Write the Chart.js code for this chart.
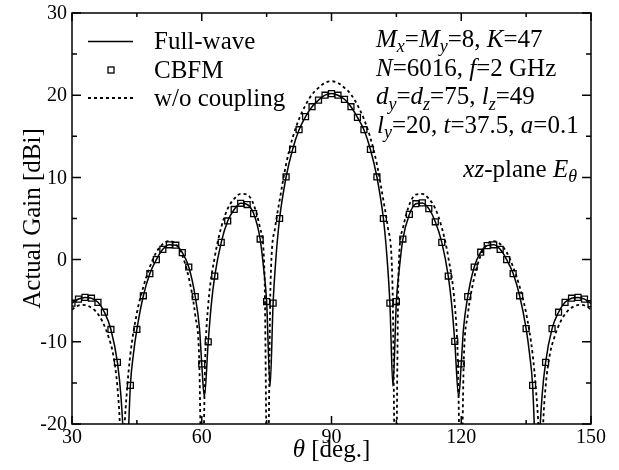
<!DOCTYPE html>
<html>
<head>
<meta charset="utf-8">
<script src="https://cdn.jsdelivr.net/npm/chart.js@4"></script>
<style>
  html, body { margin: 0; padding: 0; background: #fff; }
  canvas { display: block; }
</style>
</head>
<body>
<canvas id="gainChart" width="619" height="470"></canvas>
<script>
// --- DATA ---
// Full-wave, solid line
const fwTheta = [30, 31.5, 33, 34.5, 36, 37.5, 39, 40.5, 41.3, 42, 42.5, 43, 43.5, 44.2, 45, 46.5, 48, 49.5, 51, 52.5, 54, 55.5, 57, 58.5, 59.5, 60, 60.6, 61.5, 62.2, 63, 64.5, 66, 67.5, 69, 70.5, 72, 73.5, 74.3, 75, 75.8, 76.5, 77.2, 78, 79.5, 81, 82.5, 84, 85.5, 87, 88.5, 90, 91.5, 93, 94.5, 96, 97.5, 99, 100.5, 102, 102.8, 103.5, 104.2, 105, 105.7, 106.5, 108, 109.5, 111, 112.5, 114, 115.5, 117, 117.8, 118.5, 119.4, 120, 120.5, 121.5, 123, 124.5, 126, 127.5, 129, 130.5, 132, 133.5, 135, 135.8, 136.5, 137, 137.5, 138, 138.7, 139.5, 141, 142.5, 144, 145.5, 147, 148.5, 150];
const fwGain = [-5.3, -4.8, -4.6, -4.7, -5.2, -6.4, -8.5, -12.5, -16.5, -23, -32, -22, -15.3, -11.5, -8.5, -4.4, -1.7, 0.0, 1.25, 1.8, 1.75, 0.85, -0.9, -4.5, -8.5, -12.7, -16.7, -10.0, -5.5, -2.0, 2.1, 4.7, 6.1, 6.85, 6.7, 5.6, 2.5, -1.0, -5.1, -15.4, -5.3, 0.5, 5.0, 10.05, 13.4, 15.8, 17.4, 18.6, 19.4, 20.0, 20.2, 20.0, 19.5, 18.6, 17.3, 15.8, 13.4, 10.05, 5.0, 0.5, -5.3, -15.4, -5.1, -1.0, 2.5, 5.5, 6.8, 6.9, 6.2, 4.6, 2.1, -2.0, -5.5, -9.95, -16.7, -12.7, -8.5, -4.5, -0.9, 0.9, 1.7, 1.8, 1.25, 0.0, -1.7, -4.4, -8.4, -11.5, -15.3, -22, -32, -23, -16.5, -12.5, -8.4, -6.4, -5.2, -4.7, -4.6, -4.8, -5.35];

// CBFM, square markers every 1.5 deg
const cbTheta = [30, 31.5, 33, 34.5, 36, 37.5, 39, 40.5, 42, 43.5, 45, 46.5, 48, 49.5, 51, 52.5, 54, 55.5, 57, 58.5, 60, 61.5, 63, 64.5, 66, 67.5, 69, 70.5, 72, 73.5, 75, 76.5, 78, 79.5, 81, 82.5, 84, 85.5, 87, 88.5, 90, 91.5, 93, 94.5, 96, 97.5, 99, 100.5, 102, 103.5, 105, 106.5, 108, 109.5, 111, 112.5, 114, 115.5, 117, 118.5, 120, 121.5, 123, 124.5, 126, 127.5, 129, 130.5, 132, 133.5, 135, 136.5, 138, 139.5, 141, 142.5, 144, 145.5, 147, 148.5, 150];
const cbGain = [-5.3, -4.8, -4.6, -4.7, -5.2, -6.4, -8.5, -12.5, -24, -15.3, -8.5, -4.4, -1.7, 0.0, 1.25, 1.8, 1.75, 0.85, -0.9, -4.5, -12.7, -10.0, -2.0, 2.1, 4.7, 6.1, 6.85, 6.7, 5.6, 2.5, -5.1, -5.3, 5.0, 10.05, 13.4, 15.8, 17.4, 18.6, 19.4, 20.0, 20.2, 20.0, 19.5, 18.6, 17.3, 15.8, 13.4, 10.05, 5.0, -5.3, -5.1, 2.5, 5.5, 6.8, 6.9, 6.2, 4.6, 2.1, -2.0, -9.95, -12.7, -4.5, -0.9, 0.9, 1.7, 1.8, 1.25, 0.0, -1.7, -4.4, -8.4, -15.3, -24, -12.5, -8.4, -6.4, -5.2, -4.7, -4.6, -4.8, -5.35];

// w/o coupling, dotted line
const wocTheta = [30, 31, 32.5, 34, 35.5, 37, 38.5, 39.5, 40.5, 41.1, 41.6, 42.1, 42.7, 43.5, 45, 46.5, 48, 49.5, 51, 52.5, 54, 55.5, 57, 58.5, 59.4, 60.1, 60.8, 61.5, 63, 64.5, 66, 67.5, 69, 70.5, 72, 73.5, 74.5, 75.2, 75.9, 77, 78, 79.5, 81, 82.5, 84, 85.5, 87, 88.5, 90, 91.5, 93, 94.5, 96, 97.5, 99, 100.5, 102, 103, 104.1, 104.8, 105.5, 106.5, 108, 109.5, 111, 112.5, 114, 115.5, 117, 118.5, 119.2, 119.9, 120.6, 121.5, 123, 124.5, 126, 127.5, 129, 130.5, 132, 133.5, 135, 136.5, 137.3, 137.9, 138.4, 138.9, 139.5, 140.5, 141.5, 143, 144.5, 146, 147.5, 149, 150];
const wocGain = [-6.1, -5.7, -5.5, -5.7, -6.3, -7.5, -9.5, -11.5, -15.5, -20.5, -30, -21, -16, -11.5, -6.5, -3.3, -0.9, 0.9, 1.9, 2.25, 1.9, 0.5, -2.2, -6.8, -12, -30, -12, -5.5, 0.3, 3.9, 6.2, 7.4, 8.0, 7.9, 6.7, 3.8, -1.5, -30, -3, 4.0, 7.2, 11.6, 14.8, 17.1, 18.8, 20.1, 20.9, 21.5, 21.7, 21.5, 20.9, 20.1, 18.8, 17.1, 14.8, 11.6, 7.2, 4.0, -3, -30, -1.5, 3.8, 6.7, 7.9, 8.0, 7.4, 6.2, 3.9, 0.3, -5.5, -12, -30, -12, -6.8, -2.2, 0.5, 1.9, 2.25, 1.9, 0.9, -0.9, -3.3, -6.5, -11.5, -16, -21, -30, -20.5, -15.5, -11.5, -9.5, -7.5, -6.3, -5.7, -5.5, -5.7, -6.1];

// --- AXES ---
const xMajor = [30, 60, 90, 120, 150];
const xMinor = [45, 75, 105, 135];
const yMajor = [-20, -10, 0, 10, 20, 30];
const yMinor = [-15, -5, 5, 15, 25];
const xTickLabels = ['30', '60', '90', '120', '150'];
const yTickLabels = ['-20', '-10', '0', '10', '20', '30'];

const SERIF = '"Liberation Serif", "Times New Roman", serif';

function pts(xs, ys) {
    return xs.map((x, i) => ({ x: x, y: ys[i] }));
}

// draws a run of text pieces: [text, italic?, subscript?]
function richText(c, parts, x, y, size) {
    let cx = x;
    parts.forEach(p => {
        const sub = p[2];
        const fs = sub ? Math.round(size * 0.7) : size;
        c.font = (p[1] ? 'italic ' : '') + fs + 'px ' + SERIF;
        c.fillText(p[0], cx, sub ? y + size * 0.22 : y);
        cx += c.measureText(p[0]).width;
    });
    return cx - x;
}

function richWidth(c, parts, size) {
    let w = 0;
    parts.forEach(p => {
        const fs = p[2] ? Math.round(size * 0.7) : size;
        c.font = (p[1] ? 'italic ' : '') + fs + 'px ' + SERIF;
        w += c.measureText(p[0]).width;
    });
    return w;
}

const framePlugin = {
    id: 'frame',
    afterDatasetsDraw(chart) {
        const c = chart.ctx;
        const a = chart.chartArea;
        const xs = chart.scales.x, ys = chart.scales.y;
        c.save();
        c.strokeStyle = '#000';
        c.fillStyle = '#000';
        c.lineWidth = 1.5;
        c.strokeRect(a.left, a.top, a.right - a.left, a.bottom - a.top);

        // inward ticks
        c.beginPath();
        const tickX = (v, len) => {
            const px = xs.getPixelForValue(v);
            c.moveTo(px, a.bottom); c.lineTo(px, a.bottom - len);
            c.moveTo(px, a.top); c.lineTo(px, a.top + len);
        };
        const tickY = (v, len) => {
            const py = ys.getPixelForValue(v);
            c.moveTo(a.left, py); c.lineTo(a.left + len, py);
            c.moveTo(a.right, py); c.lineTo(a.right - len, py);
        };
        xMajor.forEach(v => tickX(v, 8));
        xMinor.forEach(v => tickX(v, 4));
        yMajor.forEach(v => tickY(v, 9));
        yMinor.forEach(v => tickY(v, 5));
        c.stroke();

        // tick labels
        c.font = '20px ' + SERIF;
        c.textAlign = 'center';
        c.textBaseline = 'alphabetic';
        xMajor.forEach((v, i) => c.fillText(xTickLabels[i], xs.getPixelForValue(v), a.bottom + 19));
        c.textAlign = 'right';
        c.textBaseline = 'middle';
        yMajor.forEach((v, i) => c.fillText(yTickLabels[i], a.left - 5, ys.getPixelForValue(v) + 1));

        // axis titles
        c.textBaseline = 'alphabetic';
        c.textAlign = 'left';
        const xt = [['\u03b8', true], [' [deg.]', false]];
        const xw = richWidth(c, xt, 25);
        richText(c, xt, (a.left + a.right) / 2 - xw / 2, 457, 25);

        c.save();
        c.translate(39.5, (a.top + a.bottom) / 2);
        c.rotate(-Math.PI / 2);
        c.font = '25px ' + SERIF;
        c.textAlign = 'center';
        c.fillText('Actual Gain [dBi]', 0, 0);
        c.restore();

        // legend
        c.textAlign = 'left';
        c.font = '25px ' + SERIF;
        c.lineWidth = 1.5;
        c.beginPath(); c.moveTo(88, 41.5); c.lineTo(133, 41.5); c.stroke();
        c.fillText('Full-wave', 154, 49);
        c.fillStyle = '#fff';
        c.fillRect(108, 67, 6, 6);
        c.fillStyle = '#000';
        c.lineWidth = 1.3;
        c.strokeRect(108, 67, 6, 6);
        c.fillText('CBFM', 154, 77.5);
        c.lineWidth = 1.8;
        c.setLineDash([3, 3]);
        c.beginPath(); c.moveTo(88, 98); c.lineTo(133, 98); c.stroke();
        c.setLineDash([]);
        c.fillText('w/o coupling', 154, 106);

        // parameter notes
        richText(c, [['M', true], ['x', true, true], ['=', false], ['M', true], ['y', true, true], ['=8, ', false], ['K', true], ['=47', false]], 376, 46.5, 25);
        richText(c, [['N', true], ['=6016, ', false], ['f', true], ['=2 GHz', false]], 376, 76, 25);
        richText(c, [['d', true], ['y', true, true], ['=', false], ['d', true], ['z', true, true], ['=75, ', false], ['l', true], ['z', true, true], ['=49', false]], 376, 104, 25);
        richText(c, [['l', true], ['y', true, true], ['=20, ', false], ['t', true], ['=37.5, ', false], ['a', true], ['=0.1', false]], 377, 132.5, 25);
        const pl = [['xz', true], ['-plane ', false], ['E', true], ['\u03b8', true, true]];
        richText(c, pl, 577 - richWidth(c, pl, 25), 176.5, 25);
        c.restore();
    }
};

const ctx = document.getElementById('gainChart').getContext('2d');
const gainChart = new Chart(ctx, {
    type: 'scatter',
    data: {
        datasets: [{
            label: 'w/o coupling',
            data: pts(wocTheta, wocGain),
            showLine: true,
            borderColor: '#000',
            borderWidth: 1.8,
            borderDash: [3, 3],
            pointRadius: 0,
            cubicInterpolationMode: 'monotone'
        }, {
            label: 'Full-wave',
            data: pts(fwTheta, fwGain),
            showLine: true,
            borderColor: '#000',
            borderWidth: 1.5,
            pointRadius: 0,
            cubicInterpolationMode: 'monotone'
        }, {
            label: 'CBFM',
            data: pts(cbTheta, cbGain),
            showLine: false,
            pointStyle: 'rect',
            pointRadius: 4.2,
            pointBorderWidth: 1.3,
            pointBorderColor: '#000',
            pointBackgroundColor: '#fff'
        }]
    },
    options: {
        responsive: false,
        animation: false,
        devicePixelRatio: 1,
        layout: { padding: { left: 72, right: 28, top: 13, bottom: 46 } },
        scales: {
            x: { type: 'linear', min: 30, max: 150, display: false },
            y: { type: 'linear', min: -20, max: 30, display: false }
        },
        plugins: { legend: { display: false }, tooltip: { enabled: false } }
    },
    plugins: [framePlugin]
});
</script>
</body>
</html>
